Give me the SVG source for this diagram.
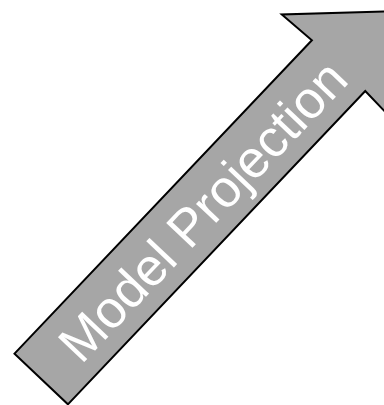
<svg xmlns="http://www.w3.org/2000/svg" width="384" height="405" viewBox="0 0 384 405">
<style>
.arrow{fill:#a6a6a6;stroke:#000;stroke-width:2;stroke-linejoin:miter}
.lbl{font-family:"Liberation Sans",Arial,sans-serif;font-size:52.5px;fill:#fff}
</style>
<rect width="384" height="405" fill="#fff"/>
<g id="model-projection" transform="translate(41.2,379) rotate(-46.5)">
<polygon class="arrow" points="0,-36.8 432,-36.8 430,-76.4 507,0 430,76.4 432,36.8 0,36.8"/>
<text class="lbl" x="233" y="19.5" text-anchor="middle">Model Projection</text>
</g>
</svg>
